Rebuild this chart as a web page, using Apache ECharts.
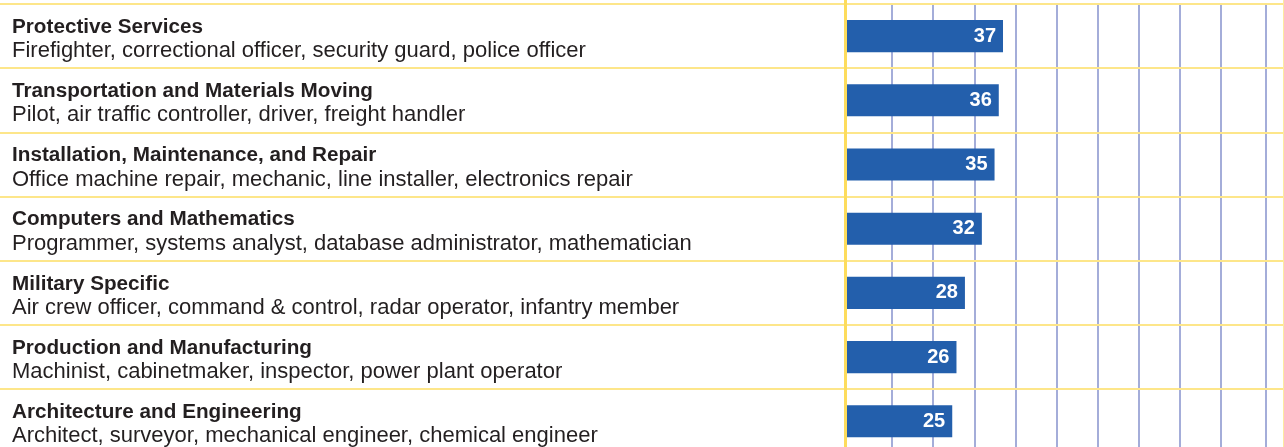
<!DOCTYPE html>
<html><head><meta charset="utf-8">
<script src="https://cdn.jsdelivr.net/npm/echarts@6/dist/echarts.min.js"></script>
<style>html,body{margin:0;padding:0;background:#fff}#c{width:1284px;height:447px}</style>
</head><body><div id="c"></div>
<script>
const titles = [
  'Protective Services',
  'Transportation and Materials Moving',
  'Installation, Maintenance, and Repair',
  'Computers and Mathematics',
  'Military Specific',
  'Production and Manufacturing',
  'Architecture and Engineering'
];
const subtitles = [
  'Firefighter, correctional officer, security guard, police officer',
  'Pilot, air traffic controller, driver, freight handler',
  'Office machine repair, mechanic, line installer, electronics repair',
  'Programmer, systems analyst, database administrator, mathematician',
  'Air crew officer, command & control, radar operator, infantry member',
  'Machinist, cabinetmaker, inspector, power plant operator',
  'Architect, surveyor, mechanical engineer, chemical engineer'
];
const values = [37, 36, 35, 32, 28, 26, 25];

const chart = echarts.init(document.getElementById('c'), null, {renderer: 'canvas'});
const yellow = '#fde68a';
const gridBlue = {show: true, lineStyle: {color: '#a4add9', width: 2}};
const off = {axisLine: {show: false}, axisTick: {show: false}, axisLabel: {show: false}};
chart.setOption({
  animation: false,
  backgroundColor: '#ffffff',
  grid: [
    {left: 0, right: 0, top: 4, height: 449.4, outerBoundsMode: 'none', containLabel: false},
    {left: 892, right: 63, top: 4, bottom: 0, outerBoundsMode: 'none'},
    {left: 1221, right: 18, top: 4, bottom: 0, outerBoundsMode: 'none'},
    {left: 845, right: 0, top: 0, bottom: 0, outerBoundsMode: 'none'}
  ],
  xAxis: [
    Object.assign({gridIndex: 0, type: 'value', min: -200.12, max: 103.43, splitLine: {show: false}}, off),
    Object.assign({gridIndex: 1, type: 'value', min: 0, max: 8, interval: 1, z: 0, splitLine: gridBlue}, off),
    Object.assign({gridIndex: 2, type: 'value', min: 0, max: 1, interval: 1, z: 0, splitLine: gridBlue}, off),
    Object.assign({gridIndex: 3, type: 'value', min: 0, max: 1, splitLine: {show: false}}, off)
  ],
  yAxis: [
    {gridIndex: 0, type: 'category', data: titles, inverse: true, z: 3,
     axisLine: {show: false}, axisTick: {show: false},
     splitLine: {show: true, interval: 0, lineStyle: {color: yellow, width: 2}},
     axisLabel: {
       inside: true, margin: 12, align: 'left', interval: 0, padding: [4, 0, 0, 0],
       formatter: function (v, i) { return '{t|' + v + '}\n{s|' + subtitles[i] + '}'; },
       rich: {
         t: {fontFamily: '"Liberation Sans", Arial, sans-serif', fontWeight: 'bold', fontSize: 20.7, color: '#231f20', lineHeight: 26},
         s: {fontFamily: '"Liberation Sans", Arial, sans-serif', fontSize: 22, color: '#231f20', lineHeight: 22}
       }
     }},
    {gridIndex: 1, type: 'value', show: false},
    {gridIndex: 2, type: 'value', show: false},
    {gridIndex: 3, type: 'value', position: 'left', z: 4,
     axisLine: {show: true, onZero: false, lineStyle: {color: '#fddc5c', width: 3}},
     axisTick: {show: false}, axisLabel: {show: false}, splitLine: {show: false}},
    {gridIndex: 3, type: 'value', position: 'right', z: 4,
     axisLine: {show: true, onZero: false, lineStyle: {color: '#fdeaa0', width: 2}},
     axisTick: {show: false}, axisLabel: {show: false}, splitLine: {show: false}}
  ],
  series: [{
    type: 'bar', xAxisIndex: 0, yAxisIndex: 0,
    data: values, barWidth: '50%',
    itemStyle: {color: '#235fac'},
    label: {show: true, position: 'insideRight', distance: 7, color: '#ffffff',
            fontFamily: '"Liberation Sans", Arial, sans-serif',
            fontWeight: 'bold', fontSize: 20}
  }]
});
</script></body></html>
